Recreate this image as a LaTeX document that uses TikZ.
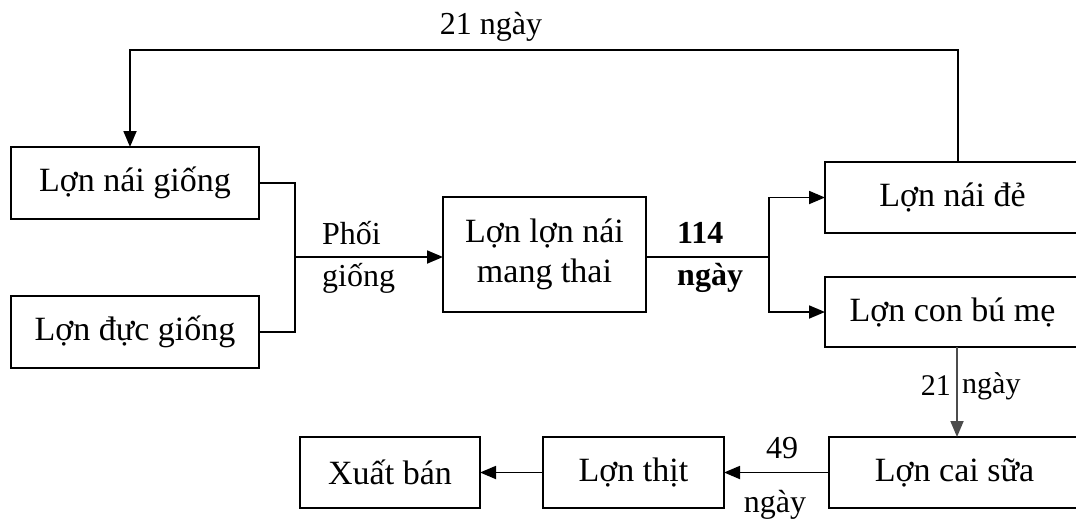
\documentclass[tikz,border=0pt]{standalone}
\usepackage{fontspec}
\setmainfont{Liberation Serif}
\usetikzlibrary{arrows.meta}
\begin{document}
\begin{tikzpicture}[x=1pt,y=-1pt,
  box/.style={draw,line width=1.8pt,outer sep=0pt,inner sep=0pt,
    font=\fontsize{34}{38}\selectfont},
  lbl/.style={inner sep=0pt,font=\fontsize{32}{36}\selectfont},
  conn/.style={line width=1.8pt},
  arr/.style={conn,-{Triangle[length=16pt,width=13pt]}}]
\useasboundingbox (0,0) rectangle (1076,522);
\clip (0,0) rectangle (1076,522);

% boxes
\node[box,minimum width=248pt,minimum height=72pt] (A) at (135,183) {Lợn nái giống};
\node[box,minimum width=248pt,minimum height=72pt] (B) at (135,332) {Lợn đực giống};
\node[box,minimum width=203pt,minimum height=115pt,align=center] (C) at (544.5,254.5)
  {Lợn lợn nái\\[2pt]mang thai};
\node[box,minimum width=255pt,minimum height=71pt] (D) at (952.5,197.5) {Lợn nái đẻ};
\node[box,minimum width=255pt,minimum height=70pt] (E) at (952.5,312) {Lợn con bú mẹ};
\node[box,minimum width=251pt,minimum height=71pt] (F) at (954.5,472.5) {Lợn cai sữa};
\node[box,minimum width=181pt,minimum height=71pt] (G) at (633.5,472.5) {Lợn thịt};
\node[box,minimum width=180pt,minimum height=71pt] (H) at (390,472.5) {Xuất bán};

% junction and bend points
\coordinate (tr) at (958,50);
\coordinate (tl) at (130,50);
\coordinate (j1) at (295,257);
\coordinate (j2) at (769,257);
\coordinate (v) at (957,0);

% connectors
\draw[arr] (D.north -| tr) -- (tr) -- (tl) -- (A.north -| tl);
\draw[conn] (A.east) -| (j1);
\draw[conn] (B.east) -| (j1);
\draw[arr] (j1) -- (C.west |- j1);
\draw[conn] (C.east |- j2) -- (j2);
\draw[arr] (j2) |- (D.west);
\draw[arr] (j2) |- (E.west);
\draw[arr,draw=black!70,fill=black!70] (E.south -| v) -- (F.north -| v);
\draw[arr] (F.west) -- (G.east);
\draw[arr] (G.west) -- (H.east);

% labels
\node[lbl] (t1) at (491,27) {21 ngày};
\node[lbl,anchor=west] (p1) at (322,233) {Phối};
\node[lbl,anchor=west] (p2) at (322,278) {giống};
\node[lbl,anchor=west] (d1) at (677,233) {\bfseries 114};
\node[lbl,anchor=west] (d2) at (677,278) {\bfseries ngày};
\node[lbl,anchor=east,font=\fontsize{30}{33}\selectfont] (r1) at (951,386) {21};
\node[lbl,anchor=west,font=\fontsize{30}{33}\selectfont] (r2) at (962,386) {ngày};
\node[lbl] (b1) at (782,448) {49};
\node[lbl] (b2) at (775,505) {ngày};
\end{tikzpicture}
\end{document}
